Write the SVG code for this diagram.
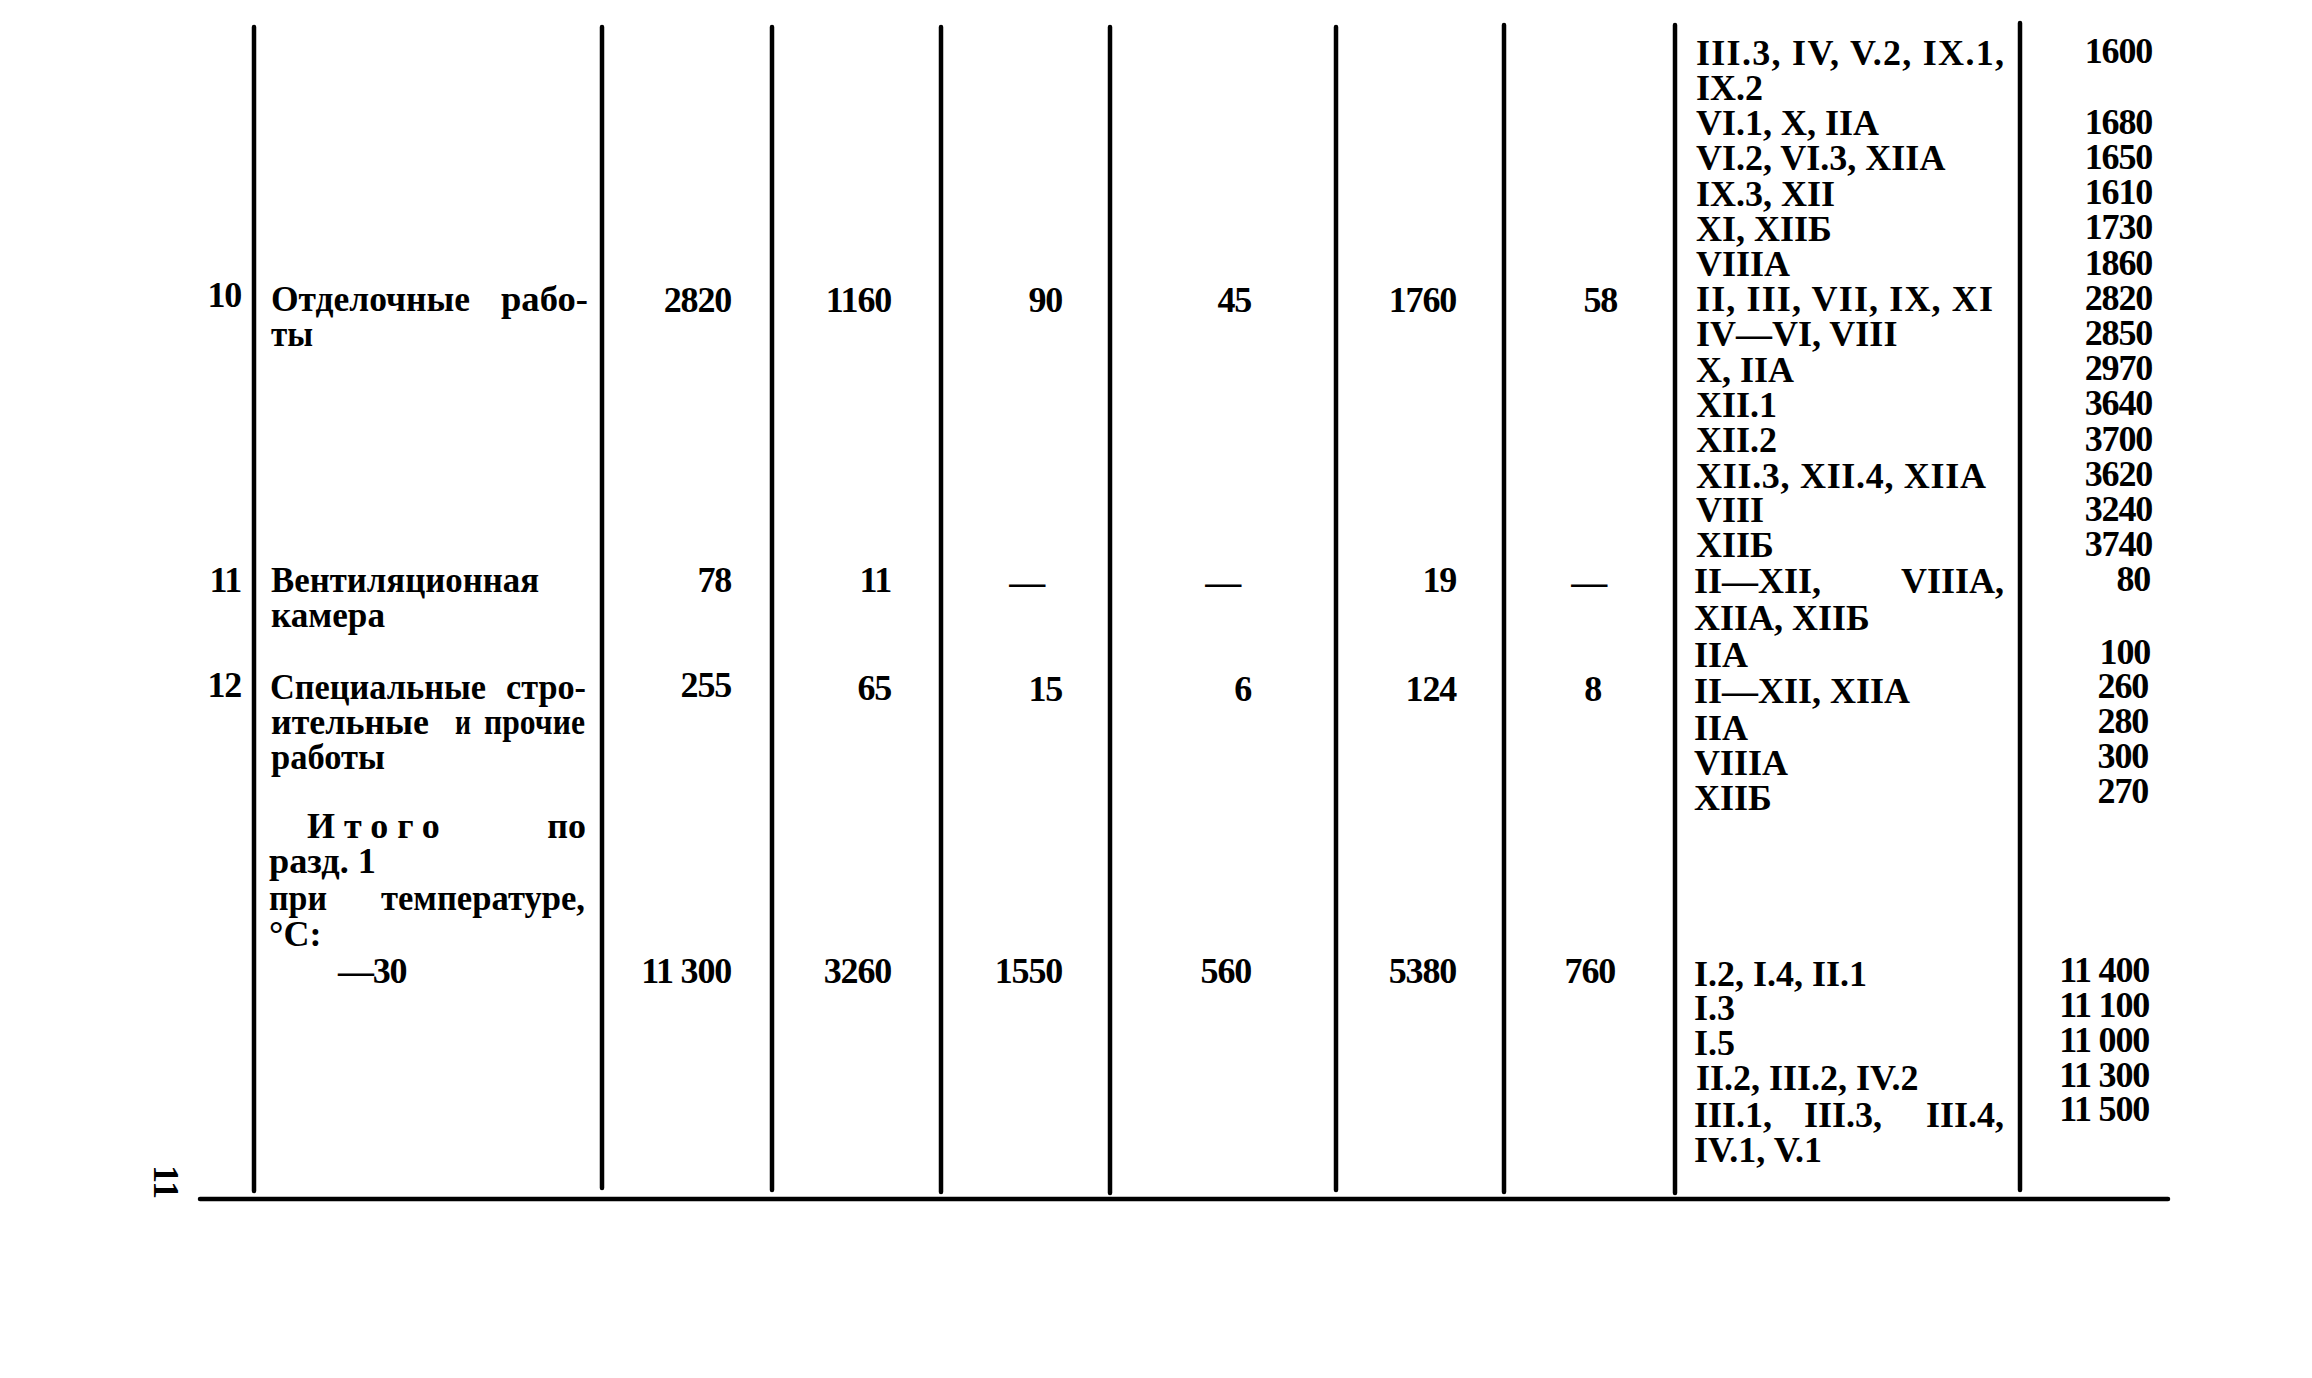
<svg xmlns="http://www.w3.org/2000/svg" width="2312" height="1378" viewBox="0 0 2312 1378">
<style>
text{font-family:"Liberation Serif","Times New Roman",serif;font-weight:bold;font-size:36px;fill:#000}
.e{text-anchor:end}
.m{text-anchor:middle}
.n{letter-spacing:-1.2px}
.rule{stroke:#000;stroke-width:4.5;fill:none;stroke-linecap:round}
</style>
<rect width="2312" height="1378" fill="#fff"/>
<g id="rules">
<line class="rule" x1="254" y1="27" x2="254" y2="1191"/>
<line class="rule" x1="602" y1="27" x2="602" y2="1188"/>
<line class="rule" x1="772" y1="27" x2="772" y2="1190"/>
<line class="rule" x1="941" y1="27" x2="941" y2="1192"/>
<line class="rule" x1="1110" y1="27" x2="1110" y2="1193"/>
<line class="rule" x1="1336" y1="27" x2="1336" y2="1190"/>
<line class="rule" x1="1504" y1="25" x2="1504" y2="1192"/>
<line class="rule" x1="1675" y1="25" x2="1675" y2="1193"/>
<line class="rule" x1="2020" y1="23" x2="2020" y2="1190"/>
<line class="rule" x1="200" y1="1199" x2="2168" y2="1199"/>
</g>
<g id="page-number">
<text class="m" transform="translate(154,1182) rotate(90)">11</text>
</g>
<g id="col-names">
<text class="e n" x="241" y="307">10</text>
<text x="271" y="311" textLength="199" lengthAdjust="spacingAndGlyphs">Отделочные</text>
<text x="501" y="311" textLength="87" lengthAdjust="spacingAndGlyphs">рабо-</text>
<text x="271" y="346" textLength="42" lengthAdjust="spacingAndGlyphs">ты</text>
<text class="e n" x="241" y="592">11</text>
<text x="271" y="592" textLength="268" lengthAdjust="spacingAndGlyphs">Вентиляционная</text>
<text x="271" y="627" textLength="114" lengthAdjust="spacingAndGlyphs">камера</text>
<text class="e n" x="241" y="697">12</text>
<text x="270" y="699" textLength="216" lengthAdjust="spacingAndGlyphs">Специальные</text>
<text x="506" y="699" textLength="80" lengthAdjust="spacingAndGlyphs">стро-</text>
<text x="271" y="734" textLength="158" lengthAdjust="spacingAndGlyphs">ительные</text>
<text x="455" y="734" textLength="16" lengthAdjust="spacingAndGlyphs">и</text>
<text x="484" y="734" textLength="101" lengthAdjust="spacingAndGlyphs">прочие</text>
<text x="271" y="769" textLength="114" lengthAdjust="spacingAndGlyphs">работы</text>
<text x="307" y="838" letter-spacing="9">Итого</text>
<text class="e" x="586" y="838">по</text>
<text x="269" y="873" textLength="107" lengthAdjust="spacingAndGlyphs">разд. 1</text>
<text x="269" y="910" textLength="58" lengthAdjust="spacingAndGlyphs">при</text>
<text x="381" y="910" textLength="204" lengthAdjust="spacingAndGlyphs">температуре,</text>
<text x="269" y="946">°C:</text>
<text class="n" x="338" y="983">—30</text>
</g>
<g id="col-values" class="n">
<text class="e" x="731" y="312">2820</text>
<text class="e" x="731" y="592">78</text>
<text class="e" x="731" y="697">255</text>
<text class="e" x="731" y="983">11 300</text>
<text class="e" x="891" y="312">1160</text>
<text class="e" x="891" y="592">11</text>
<text class="e" x="891" y="700">65</text>
<text class="e" x="891" y="983">3260</text>
<text class="e" x="1062" y="312">90</text>
<text class="e" x="1044" y="594">—</text>
<text class="e" x="1062" y="701">15</text>
<text class="e" x="1062" y="983">1550</text>
<text class="e" x="1251" y="312">45</text>
<text class="e" x="1240" y="594">—</text>
<text class="e" x="1251" y="701">6</text>
<text class="e" x="1251" y="983">560</text>
<text class="e" x="1456" y="312">1760</text>
<text class="e" x="1456" y="592">19</text>
<text class="e" x="1456" y="701">124</text>
<text class="e" x="1456" y="983">5380</text>
<text class="e" x="1617" y="312">58</text>
<text class="e" x="1606" y="594">—</text>
<text class="e" x="1601" y="701">8</text>
<text class="e" x="1615" y="983">760</text>
</g>
<g id="col-variants">
<text x="1696" y="65" textLength="308" lengthAdjust="spacing">III.3, IV, V.2, IX.1,</text>
<text x="1696" y="100">IX.2</text>
<text x="1696" y="135">VI.1, X, IIA</text>
<text x="1696" y="170">VI.2, VI.3, XIIA</text>
<text x="1696" y="206">IX.3, XII</text>
<text x="1696" y="241">XI, XIIБ</text>
<text x="1696" y="276">VIIIA</text>
<text x="1696" y="311" textLength="297" lengthAdjust="spacing">II, III, VII, IX, XI</text>
<text x="1696" y="346">IV—VI, VIII</text>
<text x="1696" y="382">X, IIA</text>
<text x="1696" y="417">XII.1</text>
<text x="1696" y="452">XII.2</text>
<text x="1696" y="488" textLength="290" lengthAdjust="spacing">XII.3, XII.4, XIIA</text>
<text x="1696" y="522">VIII</text>
<text x="1696" y="557">XIIБ</text>
<text x="1694" y="593">II—XII,</text>
<text class="e" x="2004" y="593">VIIIA,</text>
<text x="1694" y="630">XIIA, XIIБ</text>
<text x="1694" y="667">IIA</text>
<text x="1694" y="703">II—XII, XIIA</text>
<text x="1694" y="740">IIA</text>
<text x="1694" y="775">VIIIA</text>
<text x="1694" y="810">XIIБ</text>
<text x="1694" y="986">I.2, I.4, II.1</text>
<text x="1694" y="1020">I.3</text>
<text x="1694" y="1055">I.5</text>
<text x="1696" y="1090">II.2, III.2, IV.2</text>
<text x="1694" y="1127">III.1,</text>
<text x="1804" y="1127">III.3,</text>
<text class="e" x="2004" y="1127">III.4,</text>
<text x="1694" y="1162">IV.1, V.1</text>
</g>
<g id="col-totals" class="n">
<text class="e" x="2152" y="63">1600</text>
<text class="e" x="2152" y="134">1680</text>
<text class="e" x="2152" y="169">1650</text>
<text class="e" x="2152" y="204">1610</text>
<text class="e" x="2152" y="239">1730</text>
<text class="e" x="2152" y="275">1860</text>
<text class="e" x="2152" y="310">2820</text>
<text class="e" x="2152" y="345">2850</text>
<text class="e" x="2152" y="380">2970</text>
<text class="e" x="2152" y="415">3640</text>
<text class="e" x="2152" y="451">3700</text>
<text class="e" x="2152" y="486">3620</text>
<text class="e" x="2152" y="521">3240</text>
<text class="e" x="2152" y="556">3740</text>
<text class="e" x="2150" y="591">80</text>
<text class="e" x="2150" y="664">100</text>
<text class="e" x="2148" y="698">260</text>
<text class="e" x="2148" y="733">280</text>
<text class="e" x="2148" y="768">300</text>
<text class="e" x="2148" y="803">270</text>
<text class="e" x="2149" y="982">11 400</text>
<text class="e" x="2149" y="1017">11 100</text>
<text class="e" x="2149" y="1052">11 000</text>
<text class="e" x="2149" y="1087">11 300</text>
<text class="e" x="2149" y="1121">11 500</text>
</g>
</svg>
